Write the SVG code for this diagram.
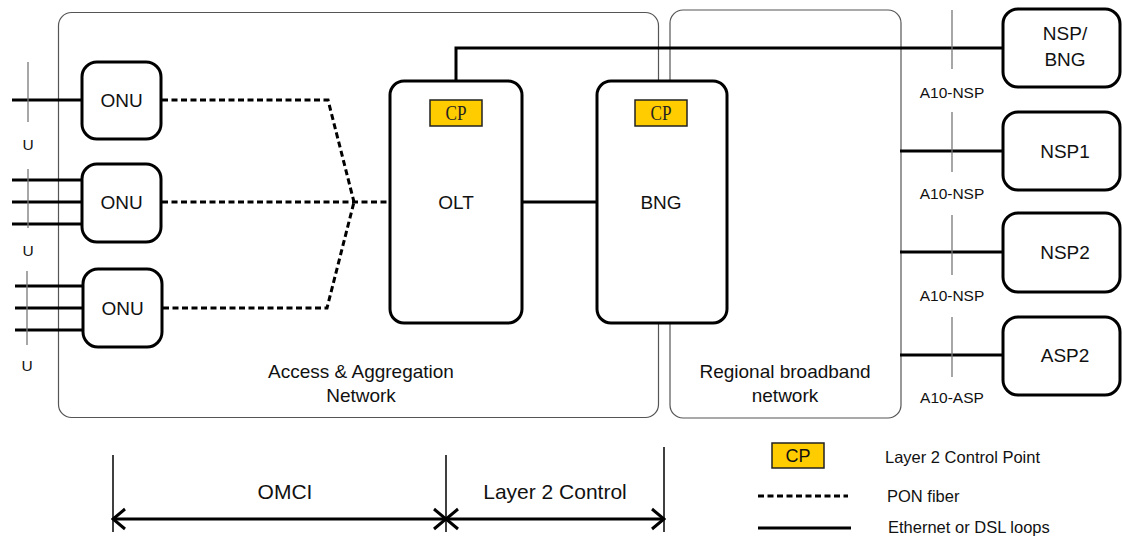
<svg xmlns="http://www.w3.org/2000/svg" width="1122" height="538" viewBox="0 0 1122 538">
<style>
.area{fill:none;stroke:#555;stroke-width:1.2}
.node{fill:#fff;stroke:#000;stroke-width:3}
.cp{fill:#FFCC00;stroke:#222;stroke-width:1.5}
.eth{fill:none;stroke:#000;stroke-width:3}
.pon{fill:none;stroke:#000;stroke-width:3;stroke-dasharray:6 3.5}
.tick{fill:none;stroke:#777;stroke-width:1.3}
.dim{fill:none;stroke:#000;stroke-width:1.5}
.t{font-family:"Liberation Sans",Arial,sans-serif;fill:#111;text-anchor:middle}
.lbl{font-size:19px}
.sm{font-size:15.5px}
.lg{font-size:16.5px;text-anchor:start}
.big{font-size:21px}
.cpt{font-family:"Liberation Serif","Times New Roman",serif;font-size:20px;fill:#222;text-anchor:middle}
</style>
<defs>
<marker id="ah" viewBox="-14 -12 16 24" refX="0" refY="0" markerWidth="16" markerHeight="24" markerUnits="userSpaceOnUse" orient="auto-start-reverse">
<path d="M-12,-10 L0,0 L-12,10" fill="none" stroke="#000" stroke-width="3"/>
</marker>
</defs>

<g id="access-network">
<rect class="area" x="58.5" y="12.5" width="600" height="405" rx="13"/>
<text class="t lbl" x="361" y="378">Access &amp; Aggregation</text>
<text class="t lbl" x="361" y="402">Network</text>
</g>
<g id="regional-network">
<rect class="area" x="670" y="10" width="231" height="408" rx="13"/>
<text class="t lbl" x="785" y="378">Regional broadband</text>
<text class="t lbl" x="785" y="402">network</text>
</g>

<g id="connectors">
<!-- user lines -->
<line class="eth" x1="12" y1="100" x2="82" y2="100"/>
<line class="eth" x1="12" y1="180" x2="82" y2="180"/>
<line class="eth" x1="12" y1="202" x2="82" y2="202"/>
<line class="eth" x1="12" y1="224" x2="82" y2="224"/>
<line class="eth" x1="15" y1="286" x2="83" y2="286"/>
<line class="eth" x1="15" y1="308" x2="83" y2="308"/>
<line class="eth" x1="15" y1="330" x2="83" y2="330"/>
<!-- PON -->
<polyline class="pon" points="162,100 328,100 354,202"/>
<line class="pon" x1="162" y1="202" x2="390" y2="202"/>
<polyline class="pon" points="163,308 327,308 354,202"/>
<!-- ethernet -->
<line class="eth" x1="522" y1="202" x2="597" y2="202"/>
<polyline class="eth" points="456,81 456,48 1003,48"/>
<line class="eth" x1="900" y1="151" x2="1003" y2="151"/>
<line class="eth" x1="900" y1="252" x2="1003" y2="252"/>
<line class="eth" x1="900" y1="355" x2="1003" y2="355"/>
</g>

<g id="reference-points">
<line class="tick" x1="28" y1="62" x2="28" y2="122"/>
<text class="t sm" x="28" y="150">U</text>
<line class="tick" x1="28" y1="169" x2="28" y2="228"/>
<text class="t sm" x="28" y="256">U</text>
<line class="tick" x1="27" y1="271" x2="27" y2="345"/>
<text class="t sm" x="27" y="371">U</text>
<line class="tick" x1="952" y1="10" x2="952" y2="69"/>
<text class="t sm" x="952" y="98">A10-NSP</text>
<line class="tick" x1="952" y1="112" x2="952" y2="172"/>
<text class="t sm" x="952" y="199">A10-NSP</text>
<line class="tick" x1="952" y1="215" x2="952" y2="275"/>
<text class="t sm" x="952" y="301">A10-NSP</text>
<line class="tick" x1="952" y1="317" x2="952" y2="377"/>
<text class="t sm" x="952" y="403">A10-ASP</text>
</g>

<g id="onu1">
<rect class="node" x="82" y="62" width="79" height="77" rx="15"/>
<text class="t lbl" x="121.5" y="107">ONU</text>
</g>
<g id="onu2">
<rect class="node" x="82" y="164" width="79" height="78" rx="15"/>
<text class="t lbl" x="121.5" y="209">ONU</text>
</g>
<g id="onu3">
<rect class="node" x="83" y="269" width="79" height="78" rx="15"/>
<text class="t lbl" x="122.5" y="315">ONU</text>
</g>

<g id="olt">
<rect class="node" x="390" y="81" width="132" height="242" rx="14"/>
<rect class="cp" x="430" y="100" width="52" height="26"/>
<text class="cpt" x="456" y="119.5" textLength="21" lengthAdjust="spacingAndGlyphs">CP</text>
<text class="t lbl" x="456" y="209">OLT</text>
</g>
<g id="bng">
<rect class="node" x="597" y="81" width="130" height="242" rx="14"/>
<rect class="cp" x="635" y="100" width="52" height="26"/>
<text class="cpt" x="661" y="119.5" textLength="21" lengthAdjust="spacingAndGlyphs">CP</text>
<text class="t lbl" x="661" y="209">BNG</text>
</g>

<g id="nsp-bng">
<rect class="node" x="1003" y="9" width="117" height="78" rx="15"/>
<text class="t lbl" x="1065" y="40">NSP/</text>
<text class="t lbl" x="1065" y="66">BNG</text>
</g>
<g id="nsp1">
<rect class="node" x="1003" y="112" width="117" height="78" rx="15"/>
<text class="t lbl" x="1065" y="158">NSP1</text>
</g>
<g id="nsp2">
<rect class="node" x="1003" y="213" width="117" height="79" rx="15"/>
<text class="t lbl" x="1065" y="259">NSP2</text>
</g>
<g id="asp2">
<rect class="node" x="1003" y="317" width="117" height="78" rx="15"/>
<text class="t lbl" x="1065" y="362">ASP2</text>
</g>

<g id="scope">
<line class="dim" x1="113" y1="455" x2="113" y2="532"/>
<line class="dim" x1="446" y1="455" x2="446" y2="532"/>
<line class="dim" x1="664" y1="447" x2="664" y2="532"/>
<line class="eth" x1="113" y1="519" x2="446" y2="519" marker-start="url(#ah)" marker-end="url(#ah)"/>
<line class="eth" x1="446" y1="519" x2="664" y2="519" marker-start="url(#ah)" marker-end="url(#ah)"/>
<text class="t big" x="285" y="499">OMCI</text>
<text class="t big" x="555" y="499">Layer 2 Control</text>
</g>

<g id="legend">
<rect class="cp" x="772" y="443" width="52" height="25"/>
<text class="t" x="798" y="462" style="font-size:18px">CP</text>
<text class="t lg" x="885" y="463">Layer 2 Control Point</text>
<line class="pon" x1="758" y1="496" x2="848" y2="496"/>
<text class="t lg" x="887" y="502">PON fiber</text>
<line class="eth" x1="758" y1="528" x2="851" y2="528"/>
<text class="t lg" x="888" y="533">Ethernet or DSL loops</text>
</g>
</svg>
